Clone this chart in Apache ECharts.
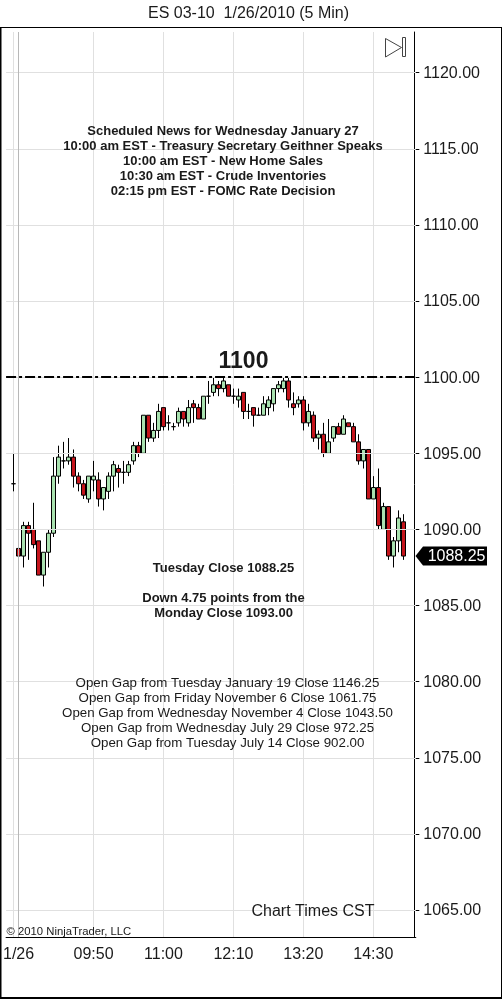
<!DOCTYPE html>
<html><head><meta charset="utf-8">
<style>html,body{margin:0;padding:0;background:#fff}#c{width:502px;height:999px}</style>
<script src="https://cdn.jsdelivr.net/npm/echarts@6/dist/echarts.min.js"></script>
</head><body><div id="c"></div>
<script>
const times = ['08:30','08:35','08:40','08:45','08:50','08:55','09:00','09:05','09:10','09:15','09:20','09:25','09:30','09:35','09:40','09:45','09:50','09:55','10:00','10:05','10:10','10:15','10:20','10:25','10:30','10:35','10:40','10:45','10:50','10:55','11:00','11:05','11:10','11:15','11:20','11:25','11:30','11:35','11:40','11:45','11:50','11:55','12:00','12:05','12:10','12:15','12:20','12:25','12:30','12:35','12:40','12:45','12:50','12:55','13:00','13:05','13:10','13:15','13:20','13:25','13:30','13:35','13:40','13:45','13:50','13:55','14:00','14:05','14:10','14:15','14:20','14:25','14:30','14:35','14:40','14:45','14:50','14:55','15:00'];
const opens = [1093,1088.75,1088.25,1090.25,1090,1089.25,1087,1088.5,1089.75,1093.5,1094.5,1094.5,1094.75,1093.5,1093,1092,1093.25,1093.25,1092,1092.5,1093.5,1094,1093.75,1093.75,1094.5,1095.5,1095,1097.5,1096,1096.5,1098,1097,1096.75,1097,1097.75,1097,1098.25,1098,1097.25,1098.75,1099,1099.5,1099.25,1099.5,1098.75,1098.5,1099,1097.75,1098,1097.5,1097.5,1098,1098.25,1099.25,1099.25,1099.75,1098.25,1098.25,1098.5,1097,1097.5,1096,1096.25,1095,1096,1096.75,1096.25,1097,1096.75,1095.75,1094.5,1095.25,1092,1092.75,1090,1091.5,1088.25,1089.25,1090.5];
const closes = [1093,1088.25,1090.25,1089.75,1089,1087,1088.5,1089.75,1093.5,1094.75,1094.5,1094.75,1093.5,1093,1092.25,1093.5,1093.5,1092,1092.75,1093.5,1094.25,1093.75,1093.75,1094.25,1095.5,1095,1097.5,1096,1096.5,1097.75,1096.75,1097,1096.75,1097.75,1097.25,1098,1098,1097.25,1098.75,1098.75,1099.5,1099.25,1099.75,1098.75,1098.75,1098.75,1097.75,1097.75,1097.5,1097.5,1098.25,1098.5,1099.25,1099.5,1099.75,1098.5,1098,1098.5,1097,1097.75,1096,1096.25,1095,1095.75,1096.75,1096.25,1097.25,1096.75,1095.75,1094.5,1095.25,1092,1092.75,1090.25,1091.5,1088.25,1089.25,1090.75,1088.25];
const lows = [1092.5,1086,1087.5,1088,1088.75,1087,1086.25,1087.5,1089.5,1093,1094,1094.25,1092.75,1092.5,1092,1091.75,1092.5,1091.5,1091.25,1092,1092.5,1092.75,1093,1093.5,1094.25,1094.75,1095,1095.75,1095.75,1096,1096.5,1096.5,1096.5,1096.75,1096.75,1096.75,1097,1097.25,1097.25,1098.25,1098.75,1098.75,1099,1098.75,1098.25,1098,1097.25,1097.25,1096.75,1097.5,1097.5,1097.5,1097.75,1099,1099,1098,1097.5,1098,1096.5,1096.75,1095.75,1095.25,1094.75,1095,1095.75,1096.25,1096.25,1096.75,1095.75,1094.25,1094,1092,1092,1090,1090,1088,1087.5,1088.5,1088];
const highs = [1095,1089,1090.5,1090.5,1091.75,1089.25,1088.5,1090,1094.75,1095.5,1095.75,1096,1095.25,1093.75,1093.25,1093.5,1094.5,1093.75,1092.75,1093.75,1094.5,1094.25,1094.5,1094.5,1095.75,1095.75,1097.5,1097.5,1097,1098.25,1098,1097.5,1097,1098,1097.75,1098.5,1098.5,1098.25,1098.75,1099.75,1100,1099.75,1100,1099.5,1099.25,1099.25,1099,1098.25,1098,1098,1098.75,1098.75,1099.25,1099.75,1100,1100,1099,1098.75,1098.75,1098.25,1097.75,1096.5,1097,1097.25,1096.75,1097,1097.5,1097,1097,1096.25,1095.25,1095.25,1093.5,1094,1091.75,1091.5,1089.5,1091.25,1091];
const priceTicks = [1065,1070,1075,1080,1085,1090,1095,1100,1105,1110,1115,1120];
const timeLabels = {'08:35':'1/26','09:50':'09:50','11:00':'11:00','12:10':'12:10','13:20':'13:20','14:30':'14:30'};
const tickTimes = ['08:30','08:35','09:50','11:00','12:10','13:20','14:30'];
const newsLines = ['Scheduled News for Wednesday January 27','10:00 am EST - Treasury Secretary Geithner Speaks','10:00 am EST - New Home Sales','10:30 am EST - Crude Inventories','02:15 pm EST - FOMC Rate Decision'];
const gapLines = ['Open Gap from Tuesday January 19 Close 1146.25','Open Gap from Friday November 6 Close 1061.75','Open Gap from Wednesday November 4 Close 1043.50','Open Gap from Wednesday July 29 Close 972.25','Open Gap from Tuesday July 14 Close 902.00'];
const closeLines = [['Tuesday Close 1088.25',568],['Down 4.75 points from the',598],['Monday Close 1093.00',613]];
const levelPrice = 1100, lastClose = 1088.25, sessionStart = '08:35';

const cats = [''].concat(times, ['', '']);
const rows = times.map((t,i)=>[i+1, opens[i], closes[i], lows[i], highs[i]]);
const FONT = '"Liberation Sans", Arial, sans-serif';
const txt = (text,x,y,size,weight,align,fill,z) => ({type:'text',x,y,silent:true,z:z||20,style:{text,font:(weight||'normal')+' '+size+'px '+FONT,textAlign:align||'center',textVerticalAlign:'middle',fill:fill||'#1a1a1a'}});

const el = document.getElementById('c');
const chart = echarts.init(el,null,{renderer:'canvas',width:502,height:999});
const g = [];
g.push({type:'line',z:1,silent:true,shape:{x1:0.5,y1:27.5,x2:0.5,y2:998.5},style:{stroke:'#000',lineWidth:2}});
g.push({type:'line',z:1,silent:true,shape:{x1:0,y1:27.5,x2:502,y2:27.5},style:{stroke:'#000',lineWidth:1}});
g.push({type:'line',z:1,silent:true,shape:{x1:501.5,y1:27.5,x2:501.5,y2:998.5},style:{stroke:'#000',lineWidth:1}});
g.push({type:'line',z:1,silent:true,shape:{x1:0,y1:998,x2:502,y2:998},style:{stroke:'#000',lineWidth:2}});
g.push(txt('ES 03-10  1/26/2010 (5 Min)',248.5,14,16));
newsLines.forEach((s,i)=>g.push(txt(s,223,131.5+15*i,13,'bold')));
closeLines.forEach(([s,y])=>g.push(txt(s,223.5,y,13,'bold')));
gapLines.forEach((s,i)=>g.push(txt(s,227.5,683.5+15*i,13.3)));
g.push(txt('1100',243.5,362,23,'bold'));
g.push(txt('Chart Times CST',313,911.5,16));
g.push(txt('\u00A9 2010 NinjaTrader, LLC',6.5,932,11.3,'normal','left'));
g.push({type:'polygon',z:20,silent:true,shape:{points:[[385.5,38.5],[401.5,47.5],[385.5,57]]},style:{fill:'#fff',stroke:'#444',lineWidth:1}});
g.push({type:'rect',z:20,silent:true,shape:{x:402.5,y:37.5,width:3,height:19},style:{fill:'#fff',stroke:'#444',lineWidth:1}});

chart.setOption({
  animation:false,
  backgroundColor:'#fff',
  grid:{left:5.8,right:86.2,top:32,bottom:62,containLabel:false},
  xAxis:{type:'category',data:cats,boundaryGap:true,
    axisLine:{onZero:false,lineStyle:{color:'#000',width:1}},
    axisTick:{alignWithLabel:true,length:6,lineStyle:{color:'#000'},interval:(i,v)=>tickTimes.includes(v)},
    splitLine:{show:true,alignWithLabel:true,interval:(i,v)=>tickTimes.includes(v),lineStyle:{color:'#e0e0e0',width:1}},
    axisLabel:{interval:(i,v)=>v in timeLabels,formatter:v=>timeLabels[v]||'',color:'#1a1a1a',fontFamily:FONT,fontSize:16,margin:10,hideOverlap:false}},
  yAxis:{type:'value',position:'right',offset:-1.5,scale:true,min:1063.23,max:1122.67,
    axisLine:{show:true,lineStyle:{color:'#000',width:1}},
    axisTick:{show:true,length:5,lineStyle:{color:'#000'},customValues:priceTicks},
    axisLabel:{color:'#1a1a1a',fontFamily:FONT,fontSize:16,margin:9,verticalAlign:'top',lineHeight:2,customValues:priceTicks,formatter:v=>v.toFixed(2)},
    splitLine:{show:false}},
  series:[
    {type:'line',data:[],silent:true,z:1,symbol:'none',
     markLine:{silent:true,symbol:'none',label:{show:false},animation:false,lineStyle:{color:'#e0e0e0',width:1,type:'solid'},
       data:priceTicks.map(v=>({yAxis:v})).concat([{xAxis:sessionStart,lineStyle:{color:'#b8b8b8',width:1,type:'solid'}}])}},
    {type:'candlestick',z:3,data:rows,encode:{x:0,y:[1,2,3,4]},barWidth:5,
     itemStyle:{color:'#a9e2b0',color0:'#c5141c',borderColor:'#000',borderColor0:'#000',borderColorDoji:'#000',borderWidth:1},
     markLine:{silent:true,symbol:'none',label:{show:false},animation:false,lineStyle:{color:'#000',width:2,type:[10,3,3,3]},data:[{yAxis:levelPrice}]}}
  ],
  graphic:{elements:g}
});
const yLast = chart.convertToPixel({yAxisIndex:0},lastClose);
chart.setOption({graphic:{elements:g.concat([
  {type:'polygon',z:21,silent:true,shape:{points:[[415.5,yLast],[423,yLast-9.5],[487,yLast-9.5],[487,yLast+9.5],[423,yLast+9.5]]},style:{fill:'#000'}},
  txt('1088.25',485.5,yLast+1,16,'normal','right','#fff',22)
])}});
</script></body></html>
